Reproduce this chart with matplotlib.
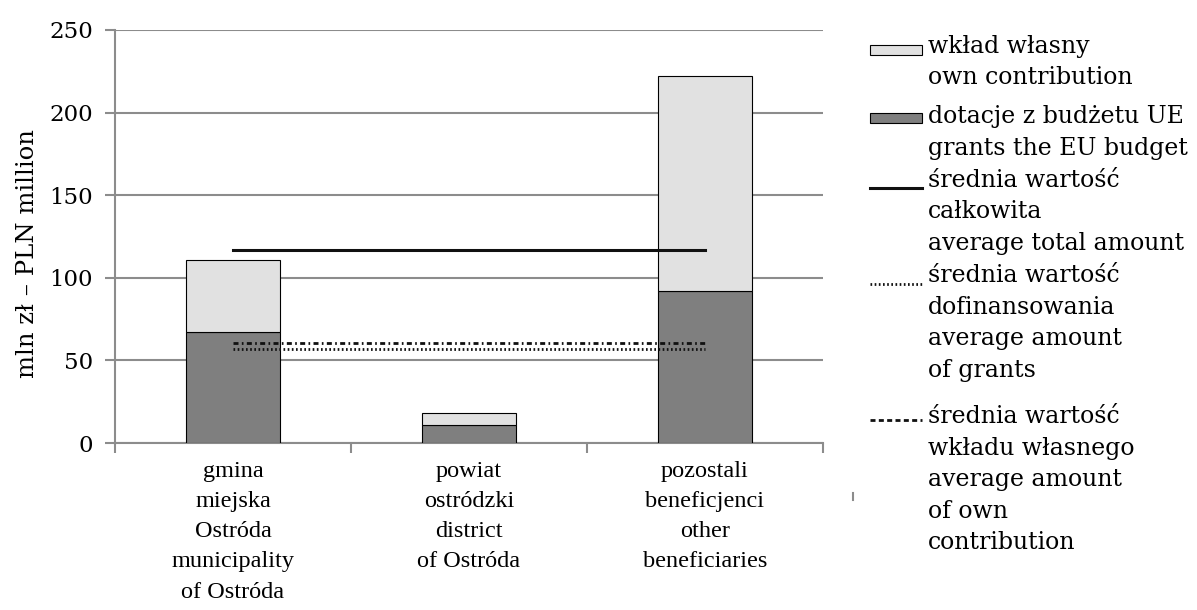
import matplotlib
matplotlib.use("Agg")
import matplotlib.pyplot as plt
import numpy as np
from matplotlib.patches import Rectangle
from matplotlib.lines import Line2D

categories = ["gmina\nmiejska\nOstróda\nmunicipality\nof Ostróda",
              "powiat\nostródzki\ndistrict\nof Ostróda",
              "pozostali\nbeneficjenci\nother\nbeneficiaries"]
grants = [67, 11, 92]
own = [44, 7, 130]
avg_total = 117.0
avg_grants = 56.7
avg_own = 60.3
yticks = [0, 50, 100, 150, 200, 250]
legend_labels = [
    ["wkład własny", "own contribution"],
    ["dotacje z budżetu UE", "grants the EU budget"],
    ["średnia wartość", "całkowita", "average total amount"],
    ["średnia wartość", "dofinansowania", "average amount", "of grants"],
    ["średnia wartość", "wkładu własnego", "average amount", "of own", "contribution"],
]

W, H = 1197, 610
plt.rcParams['font.family'] = ['DejaVu Serif']
fig = plt.figure(figsize=(W/100, H/100), dpi=100)
ax = fig.add_axes([115/W, 1-443/H, (823-115)/W, 413/H])

LIGHT, DARK, INK, GRID = "#e1e1e1", "#7f7f7f", "#111111", "#8c8c8c"
DOT = (0, (0.6, 0.9))
DASHDOT = (0, (1.8, 1.2, 0.6, 1.2))

x = np.arange(len(categories))
ax.bar(x, grants, width=0.4, color=DARK, edgecolor="black", linewidth=0.8, zorder=3)
ax.bar(x, own, width=0.4, bottom=grants, color=LIGHT, edgecolor="black", linewidth=0.8, zorder=3)

ax.plot([x[0], x[-1]], [avg_total]*2, color=INK, lw=2.2, zorder=4)
ax.plot([x[0], x[-1]], [avg_grants]*2, color=INK, lw=2, ls=DOT, zorder=4)
ax.plot([x[0], x[-1]], [avg_own]*2, color=INK, lw=2, ls=DASHDOT, zorder=4)

ax.set_xlim(-0.5, 2.5)
ax.set_ylim(0, 250)
ax.set_yticks(yticks)
ax.yaxis.grid(True, color=GRID, lw=1.5, zorder=0)
ax.set_xticks(x)
ax.set_xticklabels(categories, fontsize=17.5, linespacing=1.57,
                   family=['Liberation Serif'])
ax.tick_params(axis='x', length=0, pad=13)
ax.set_xticks([-0.5, 0.5, 1.5, 2.5], minor=True)
ax.tick_params(axis='x', which='minor', length=7, color=GRID, width=1.5)
ax.tick_params(axis='y', length=7, color=GRID, width=1.5, labelsize=16.5, pad=9)
for s in ['top', 'right']:
    ax.spines[s].set_visible(False)
for s in ['left', 'bottom']:
    ax.spines[s].set_color(GRID)
    ax.spines[s].set_linewidth(1.5)
ax.set_ylabel("mln zł – PLN million", fontsize=17.5)
ax.yaxis.set_label_coords((27-115)/708, (443-254)/413)
ax.yaxis.label.set_verticalalignment('center')

# manual legend (figure pixel coordinates)
def fx(px):
    return px / W

def fy(py):
    return 1 - py / H

handle_y = [50, 118, 188, 284, 420]
baselines = [53, 123, 187, 282, 423]
hx0, hx1 = 870, 922
styles = ["light", "dark", "solid", "dot", "dashdot"]
for st, hy in zip(styles, handle_y):
    if st in ("light", "dark"):
        fig.add_artist(Rectangle((fx(hx0), fy(hy + 5)), fx(hx1 - hx0), 10 / H,
                                 facecolor=LIGHT if st == "light" else DARK,
                                 edgecolor="black", linewidth=0.8, transform=fig.transFigure))
    else:
        ls = {"solid": "-", "dot": DOT, "dashdot": (0, (1.8, 1.2))}[st]
        fig.add_artist(Line2D([fx(hx0), fx(hx1)], [fy(hy), fy(hy)], color=INK,
                              lw=2.2 if st == "solid" else 2, ls=ls, transform=fig.transFigure))
for lines, b in zip(legend_labels, baselines):
    for i, line in enumerate(lines):
        fig.text(fx(928), fy(b + i * 31.5), line, fontsize=17, va='baseline', ha='left')

# small stray tick seen right of the plot
fig.add_artist(Line2D([fx(853), fx(853)], [fy(493), fy(500)], color=GRID, lw=1.5,
                      transform=fig.transFigure))

fig.savefig("out.png", dpi=100)
